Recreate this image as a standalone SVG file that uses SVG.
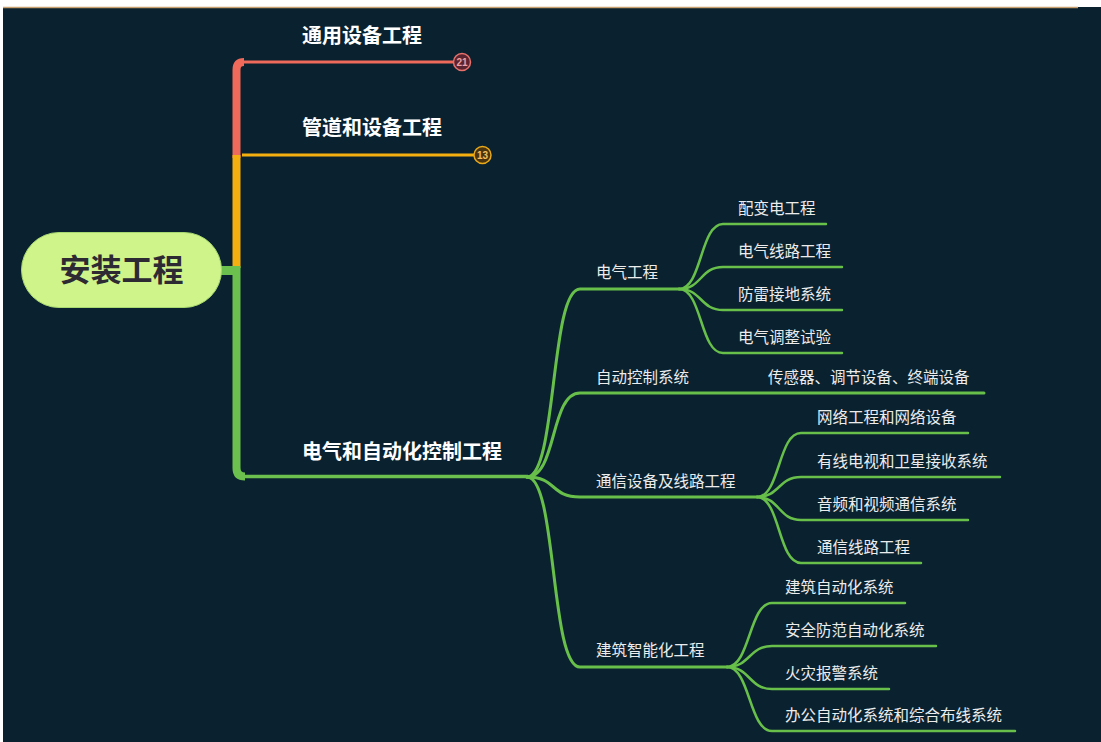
<svg xmlns="http://www.w3.org/2000/svg" width="1101" height="742" viewBox="0 0 1101 742">
<defs>
<style>
.bg{fill:#0a2230}
.l1{font-family:"Noto Sans CJK SC","Noto Sans",sans-serif;font-size:20px;font-weight:bold;fill:#ffffff}
.l2{font-family:"Noto Sans CJK SC","Noto Sans",sans-serif;font-size:15.5px;fill:#ececec}
.g2{fill:none;stroke:#68c04a;stroke-width:3;stroke-linecap:round}
.g3{fill:none;stroke:#68c04a;stroke-width:2.5;stroke-linecap:round}
.badge{font-family:"Liberation Sans",Arial,sans-serif;font-size:10px;font-weight:bold;text-anchor:middle}
</style>
</defs>
<rect x="0" y="0" width="1101" height="742" fill="#ffffff"/>
<rect class="bg" x="3" y="7" width="1098" height="735"/>
<line x1="3" y1="7.5" x2="1078" y2="7.5" stroke="#c8a070" stroke-width="1.5"/>

<g id="connectors">
  <path d="M242,62 L455,62" fill="none" stroke="#ef6a5a" stroke-width="3"/>
  <path d="M236.5,158 L236.5,70 Q236.5,62 244,62" fill="none" stroke="#ef6a5a" stroke-width="8"/>
  <path d="M242,155 L474,155" fill="none" stroke="#f5b010" stroke-width="3"/>
  <path d="M236.5,268 L236.5,155" fill="none" stroke="#f5b010" stroke-width="8"/>
  <path d="M220,270.5 L236.5,270.5" fill="none" stroke="#6cc04e" stroke-width="9"/>
  <path d="M236.5,266 L236.5,468 Q236.5,476.5 245,476.5" fill="none" stroke="#6cc04e" stroke-width="8" stroke-linejoin="round"/>
  <path d="M240,476.5 L528,476.5" fill="none" stroke="#6cc04e" stroke-width="3.5"/>
  <path class="g2" d="M527,477 C557,477 550,289 580,289 L679,289"/>
  <path class="g2" d="M527,477 C557,477 550,393 580,393 L984,393"/>
  <path class="g2" d="M527,477 C557,477 550,497 580,497 L757,497"/>
  <path class="g2" d="M527,477 C557,477 550,667 580,667 L727,667"/>
  <path class="g3" d="M679,289 C702,289 700,224 723,224 L826,224"/>
  <path class="g3" d="M679,289 C702,289 700,267 723,267 L842,267"/>
  <path class="g3" d="M679,289 C702,289 700,310 723,310 L842,310"/>
  <path class="g3" d="M679,289 C702,289 700,353 723,353 L842,353"/>
  <path class="g3" d="M757,497 C780,497 778,433 801,433 L968,433"/>
  <path class="g3" d="M757,497 C780,497 778,477 801,477 L1000,477"/>
  <path class="g3" d="M757,497 C780,497 778,520 801,520 L968,520"/>
  <path class="g3" d="M757,497 C780,497 778,563 801,563 L921,563"/>
  <path class="g3" d="M727,667 C750,667 749,603 772,603 L905,603"/>
  <path class="g3" d="M727,667 C750,667 749,646 772,646 L936,646"/>
  <path class="g3" d="M727,667 C750,667 749,689 772,689 L889,689"/>
  <path class="g3" d="M727,667 C750,667 749,731 772,731 L1015,731"/>
</g>

<g id="root">
  <rect x="21.5" y="232.5" width="200" height="75" rx="37.5" fill="#cef48a" stroke="#a8d870" stroke-width="1"/>
  <text x="121.5" y="281" text-anchor="middle" font-family="'Noto Sans CJK SC','Noto Sans',sans-serif" font-size="31" font-weight="bold" fill="#2e2a33">安装工程</text>
</g>

<g id="n-tongyong">
  <text class="l1" x="302" y="43">通用设备工程</text>
  <circle cx="462" cy="62" r="8.5" fill="#5a2430" stroke="#e8706a" stroke-width="1.5"/>
  <text class="badge" x="462" y="65.5" fill="#f0a0a0">21</text>
</g>
<g id="n-guandao">
  <text class="l1" x="302" y="135">管道和设备工程</text>
  <circle cx="482.5" cy="155" r="8.5" fill="#4a3410" stroke="#e8a818" stroke-width="1.5"/>
  <text class="badge" x="482.5" y="158.5" fill="#f0c060">13</text>
</g>
<g id="n-dianqi-zidong">
  <text class="l1" x="302" y="459">电气和自动化控制工程</text>
</g>

<g id="n-dianqi"><text class="l2" x="596" y="278">电气工程</text></g>
<g id="n-zidong"><text class="l2" x="596" y="383">自动控制系统</text></g>
<g id="n-chuanganqi"><text class="l2" x="768" y="383">传感器、调节设备、终端设备</text></g>
<g id="n-tongxin"><text class="l2" x="596" y="487">通信设备及线路工程</text></g>
<g id="n-jianzhu"><text class="l2" x="596" y="656">建筑智能化工程</text></g>

<g id="n-peibian"><text class="l2" x="738" y="214">配变电工程</text></g>
<g id="n-xianlu"><text class="l2" x="738" y="257">电气线路工程</text></g>
<g id="n-fanglei"><text class="l2" x="738" y="300">防雷接地系统</text></g>
<g id="n-tiaozheng"><text class="l2" x="738" y="343">电气调整试验</text></g>

<g id="n-wangluo"><text class="l2" x="817" y="423">网络工程和网络设备</text></g>
<g id="n-youxian"><text class="l2" x="817" y="467">有线电视和卫星接收系统</text></g>
<g id="n-yinpin"><text class="l2" x="817" y="510">音频和视频通信系统</text></g>
<g id="n-tongxinxianlu"><text class="l2" x="817" y="553">通信线路工程</text></g>

<g id="n-jianzhuzidong"><text class="l2" x="785" y="593">建筑自动化系统</text></g>
<g id="n-anquan"><text class="l2" x="785" y="636">安全防范自动化系统</text></g>
<g id="n-huozai"><text class="l2" x="785" y="679">火灾报警系统</text></g>
<g id="n-bangong"><text class="l2" x="785" y="721">办公自动化系统和综合布线系统</text></g>
</svg>
